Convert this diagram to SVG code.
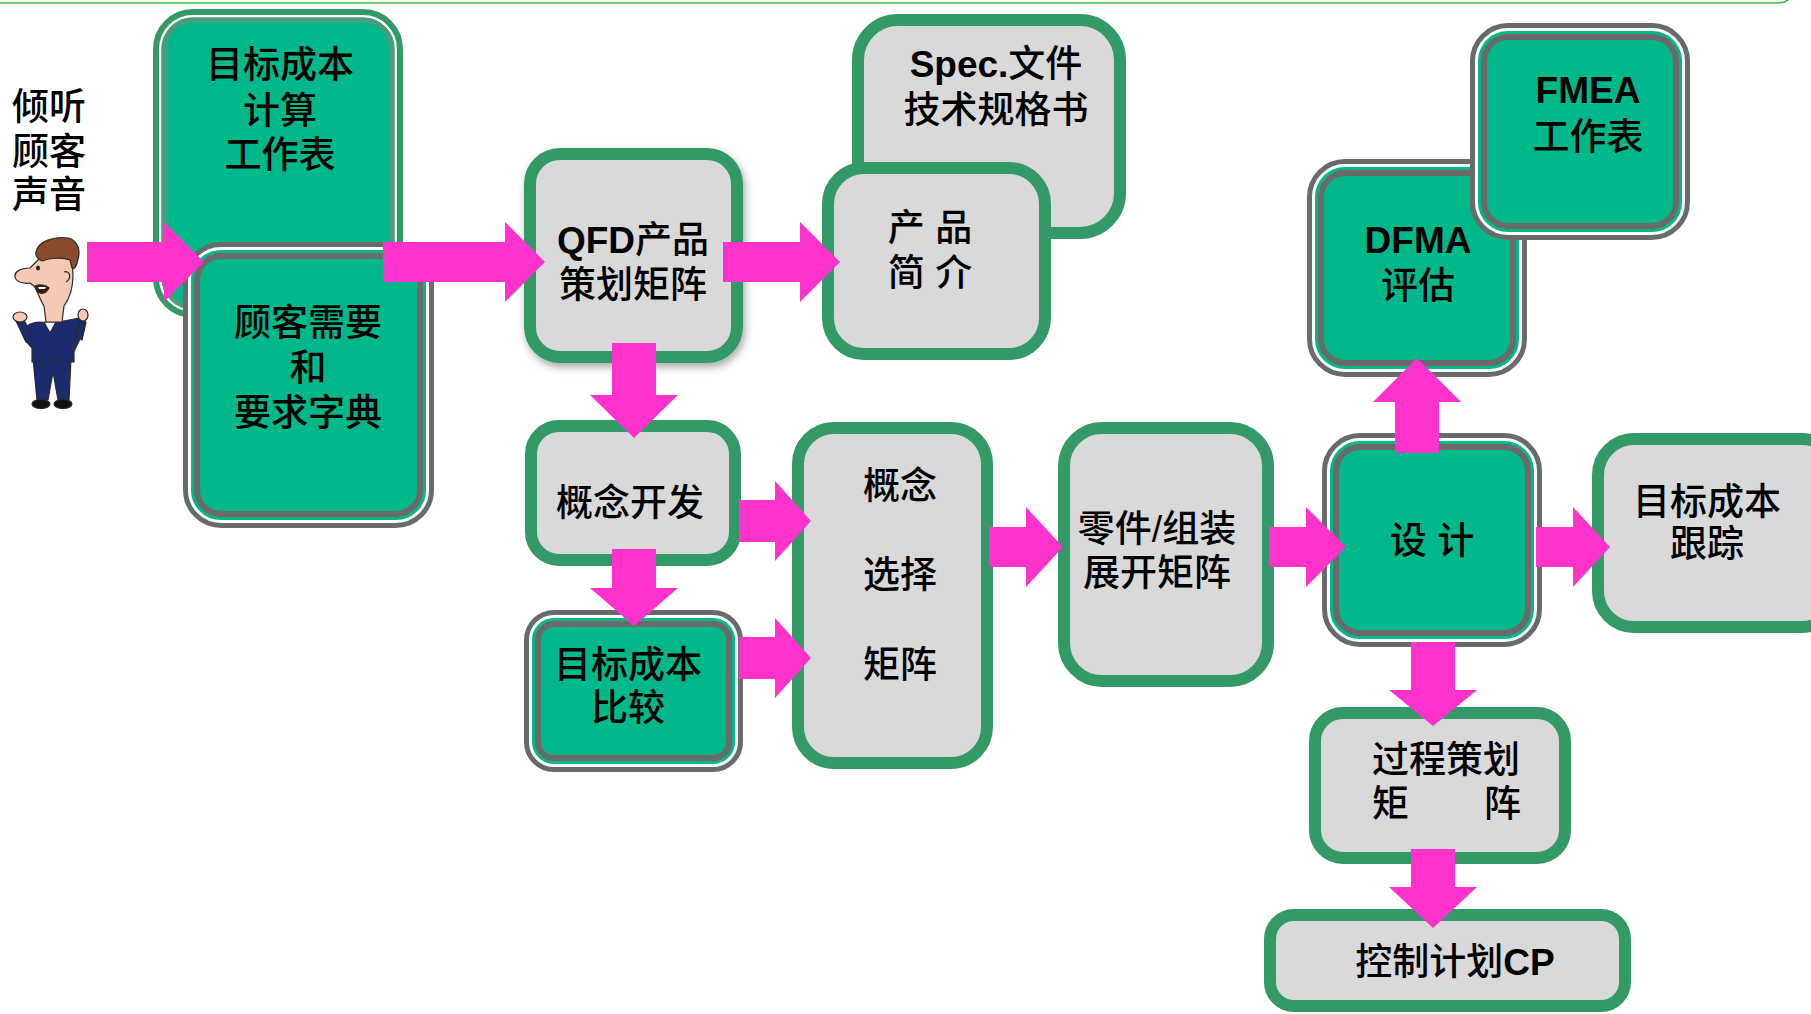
<svg xmlns="http://www.w3.org/2000/svg" width="1811" height="1014" viewBox="0 0 1811 1014">
  <defs>
    <style>
      .gbox { fill: #D9D9D9; stroke: #339966; stroke-width: 12; }
      .ring1 { fill: #00B88A; stroke: #6A6A6A; stroke-width: 5; }
      .ring2 { fill: none; stroke: #FFFFFF; stroke-width: 3; }
      .ring3 { fill: none; stroke: #6A6A6A; stroke-width: 6; }
      .arrow { fill: #FF33CC; }
      .t { font-family: "Liberation Sans", "Noto Sans CJK SC", sans-serif; font-size: 37px; font-weight: 500; fill: #000; text-anchor: middle; }
      .b { font-weight: bold; }
      .ink { stroke: #2A2A2A; stroke-width: 1.2; stroke-linejoin: round; }
    </style>
    <filter id="shadow" x="-10%" y="-10%" width="130%" height="130%">
      <feDropShadow dx="2" dy="4" stdDeviation="4" flood-color="#000" flood-opacity="0.35"/>
    </filter>
  </defs>

  <rect width="1811" height="1014" fill="#FFFFFF"/>

  <!-- thin rule along the top edge -->
  <path d="M0,3 H1775 Q1785,3 1788,0" fill="none" stroke="#3DBE3D" stroke-width="1.6"/>

  <!-- voice of the customer -->
  <g id="voice">
    <text class="t" x="49" y="120">倾听</text>
    <text class="t" x="49" y="165">顾客</text>
    <text class="t" x="49" y="208">声音</text>
    <g id="person">
      <!-- legs and shoes -->
      <path class="ink" d="M33,358 L71,358 L69,400 L58,400 L53,372 L48,400 L37,400 Z" fill="#1C2B6E"/>
      <ellipse class="ink" cx="41" cy="404" rx="9" ry="4.5" fill="#111"/>
      <ellipse class="ink" cx="63" cy="404" rx="9" ry="4.5" fill="#111"/>
      <!-- torso and arms -->
      <path class="ink" d="M27,326 C36,320 44,322 50,324 C58,322 68,320 79,318 L84,330 C80,340 76,346 74,352 L74,362 L32,362 L32,348 C26,342 22,336 22,330 Z" fill="#1C2B6E"/>
      <path class="ink" d="M16,321 L24,320 L32,336 L26,342 Z" fill="#1C2B6E"/>
      <path class="ink" d="M80,320 L86,322 L82,340 L76,336 Z" fill="#1C2B6E"/>
      <path d="M44,322 L50,333 L56,322 Z" fill="#FFFFFF" class="ink"/>
      <ellipse class="ink" cx="20" cy="317" rx="7" ry="5" fill="#F6C9B5"/>
      <ellipse class="ink" cx="83" cy="315" rx="5" ry="6" fill="#F6C9B5"/>
      <!-- head -->
      <path class="ink" d="M40,258 L30,268 C20,268 14,272 15,277 C16,282 24,284 30,283 L34,286 C38,292 40,300 44,306 L46,322 L62,322 L64,306 C70,298 73,288 73,275 L72,260 C62,255 50,255 40,258 Z" fill="#F6C9B5"/>
      <path class="ink" d="M35,286 C40,284 46,285 49,288 C46,294 40,295 37,291 Z" fill="#3A1A10"/>
      <path d="M38,287 L46,287 L45,289 L39,289 Z" fill="#FFFFFF"/>
      <ellipse cx="38" cy="268" rx="2" ry="2.5" fill="#222"/>
      <path class="ink" d="M64,272 C70,270 72,278 66,282" fill="#F6C9B5"/>
      <!-- hair -->
      <path class="ink" d="M36,252 C38,241 55,236 68,238 C77,240 81,249 78,259 C77,266 74,270 72,268 L70,260 C62,257 50,258 42,261 C38,259 35,256 36,252 Z" fill="#8B4A2C"/>
    </g>
  </g>

  <!-- target cost worksheet (behind) -->
  <g id="node-cost-worksheet">
    <rect x="156" y="12" width="244" height="303" rx="37" fill="#00B88A" stroke="#339966" stroke-width="6"/>
    <rect x="160.25" y="16.25" width="235.5" height="294.5" rx="32.75" fill="none" stroke="#FFFFFF" stroke-width="2.5"/>
    <rect x="164" y="20" width="228" height="287" rx="29" fill="none" stroke="#4F9A79" stroke-width="5"/>
    <text class="t" x="280" y="78">目标成本</text>
    <text class="t" x="280" y="124">计算</text>
    <text class="t" x="280" y="168">工作表</text>
  </g>

  <!-- customer needs -->
  <g id="node-customer-needs">
    <rect class="ring1" x="185.5" y="244.5" width="246" height="281" rx="35.5"/>
    <rect class="ring2" x="189.5" y="248.5" width="238" height="273" rx="31.5"/>
    <rect class="ring3" x="197" y="256" width="223" height="258" rx="24"/>
    <text class="t" x="308" y="336">顾客需要</text>
    <text class="t" x="308" y="381">和</text>
    <text class="t" x="308" y="426">要求字典</text>
  </g>

  <!-- QFD -->
  <g id="node-qfd">
    <rect class="gbox" x="530" y="154" width="207" height="203" rx="30" filter="url(#shadow)"/>
    <text class="t" x="633" y="253"><tspan class="b">QFD</tspan>产品</text>
    <text class="t" x="633" y="298">策划矩阵</text>
  </g>

  <!-- spec document (behind) -->
  <g id="node-spec">
    <rect class="gbox" x="858" y="20" width="262" height="213" rx="40"/>
    <text class="t" x="996" y="77"><tspan class="b">Spec.</tspan>文件</text>
    <text class="t" x="996" y="123">技术规格书</text>
  </g>

  <!-- product brief -->
  <g id="node-brief">
    <rect class="gbox" x="828" y="168" width="217" height="186" rx="36"/>
    <text class="t" x="930" y="241">产 品</text>
    <text class="t" x="930" y="286">简 介</text>
  </g>

  <!-- concept development -->
  <g id="node-concept-dev">
    <rect class="gbox" x="531" y="426" width="204" height="134" rx="28"/>
    <text class="t" x="630" y="516">概念开发</text>
  </g>

  <!-- target cost comparison -->
  <g id="node-cost-compare">
    <rect class="ring1" x="526.5" y="612.5" width="214" height="157" rx="27.5"/>
    <rect class="ring2" x="530.5" y="616.5" width="206" height="149" rx="23.5"/>
    <rect class="ring3" x="538" y="624" width="191" height="134" rx="16"/>
    <text class="t" x="628" y="678">目标成本</text>
    <text class="t" x="628" y="721">比较</text>
  </g>

  <!-- concept selection matrix -->
  <g id="node-concept-select">
    <rect class="gbox" x="798" y="428" width="189" height="335" rx="36"/>
    <text class="t" x="900" y="499">概念</text>
    <text class="t" x="900" y="588">选择</text>
    <text class="t" x="900" y="678">矩阵</text>
  </g>

  <!-- part / assembly deployment matrix -->
  <g id="node-part-matrix">
    <rect class="gbox" x="1064" y="428" width="204" height="253" rx="38"/>
    <text class="t" x="1157" y="542">零件/组装</text>
    <text class="t" x="1157" y="586">展开矩阵</text>
  </g>

  <!-- design -->
  <g id="node-design">
    <rect class="ring1" x="1324.5" y="435.5" width="215" height="209" rx="35.5"/>
    <rect class="ring2" x="1328.5" y="439.5" width="207" height="201" rx="31.5"/>
    <rect class="ring3" x="1336" y="447" width="192" height="186" rx="24"/>
    <text class="t" x="1432" y="554">设 计</text>
  </g>

  <!-- DFMA -->
  <g id="node-dfma">
    <rect class="ring1" x="1309.5" y="161.5" width="215" height="213" rx="35.5"/>
    <rect class="ring2" x="1313.5" y="165.5" width="207" height="205" rx="31.5"/>
    <rect class="ring3" x="1321" y="173" width="192" height="190" rx="24"/>
    <text class="t b" x="1418" y="253">DFMA</text>
    <text class="t" x="1418" y="299">评估</text>
  </g>

  <!-- FMEA -->
  <g id="node-fmea">
    <rect class="ring1" x="1472.5" y="25.5" width="215" height="212" rx="35.5"/>
    <rect class="ring2" x="1476.5" y="29.5" width="207" height="204" rx="31.5"/>
    <rect class="ring3" x="1484" y="37" width="192" height="189" rx="24"/>
    <text class="t b" x="1588" y="103">FMEA</text>
    <text class="t" x="1588" y="150">工作表</text>
  </g>

  <!-- target cost tracking -->
  <g id="node-cost-tracking">
    <rect class="gbox" x="1598" y="439" width="240" height="188" rx="36"/>
    <text class="t" x="1707" y="515">目标成本</text>
    <text class="t" x="1707" y="557">跟踪</text>
  </g>

  <!-- process planning matrix -->
  <g id="node-process-matrix">
    <rect class="gbox" x="1315" y="713" width="250" height="145" rx="28"/>
    <text class="t" x="1446" y="773">过程策划</text>
    <text class="t" x="1372" y="817" style="text-anchor:start">矩</text>
    <text class="t" x="1521" y="817" style="text-anchor:end">阵</text>
  </g>

  <!-- control plan -->
  <g id="node-control-plan">
    <rect class="gbox" x="1270" y="915" width="355" height="91" rx="24"/>
    <text class="t" x="1455" y="975">控制计划<tspan class="b">CP</tspan></text>
  </g>

  <!-- block arrows -->
  <g id="connectors">
    <polygon class="arrow" points="87,242 164,242 164,222 204,262 164,302 164,282 87,282"/>
    <polygon class="arrow" points="383,242 505,242 505,222 545,262 505,302 505,282 383,282"/>
    <polygon class="arrow" points="723,242 800,242 800,222 840,262 800,302 800,282 723,282"/>
    <polygon class="arrow" points="612,343 656,343 656,395 678,395 634,438 590,395 612,395"/>
    <polygon class="arrow" points="612,549 656,549 656,588 678,588 634,626 590,588 612,588"/>
    <polygon class="arrow" points="739,500 775,500 775,481 811,521 775,561 775,542 739,542"/>
    <polygon class="arrow" points="739,637 775,637 775,618 811,658 775,698 775,679 739,679"/>
    <polygon class="arrow" points="989,527 1026,527 1026,507 1063,547 1026,587 1026,567 989,567"/>
    <polygon class="arrow" points="1269,527 1306,527 1306,507 1346,547 1306,587 1306,567 1269,567"/>
    <polygon class="arrow" points="1536,527 1573,527 1573,507 1610,547 1573,587 1573,567 1536,567"/>
    <polygon class="arrow" points="1395,453 1439,453 1439,402 1461,402 1417,358 1373,402 1395,402"/>
    <polygon class="arrow" points="1411,642 1455,642 1455,690 1477,690 1433,726 1389,690 1411,690"/>
    <polygon class="arrow" points="1411,849 1455,849 1455,887 1477,887 1433,928 1389,887 1411,887"/>
  </g>
</svg>
